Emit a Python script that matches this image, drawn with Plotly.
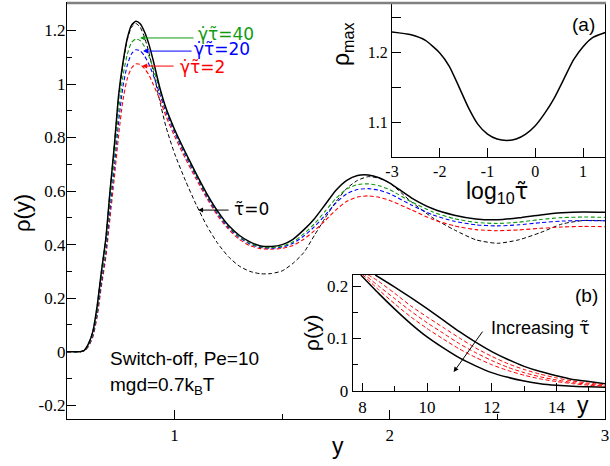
import plotly.graph_objects as go

# ---------------- data ----------------
y_pos = [0.5, 0.56, 0.58, 0.6, 0.62, 0.64, 0.66, 0.68, 0.70, 0.72, 0.74, 0.76, 0.78, 0.80,
         0.82, 0.84, 0.86, 0.88, 0.90, 0.93, 0.96, 1.0, 1.05, 1.1, 1.15, 1.2, 1.25, 1.3,
         1.35, 1.4, 1.45, 1.5, 1.55, 1.6, 1.65, 1.7, 1.75, 1.8, 1.85, 1.9, 1.95, 2.0,
         2.1, 2.2, 2.3, 2.4, 2.5, 2.6, 2.7, 2.8, 2.9, 3.0]

rho_long = [0, 0, 0.005, 0.03, 0.075, 0.17, 0.30, 0.42, 0.60, 0.77, 0.96, 1.08, 1.17, 1.22,
            1.234, 1.225, 1.195, 1.15, 1.09, 0.99, 0.91, 0.83, 0.745, 0.665, 0.59, 0.525, 0.472, 0.435,
            0.41, 0.395, 0.393, 0.40, 0.42, 0.455, 0.497, 0.55, 0.603, 0.64, 0.658, 0.66, 0.65, 0.63,
            0.575, 0.534, 0.51, 0.496, 0.493, 0.5, 0.511, 0.519, 0.522, 0.521]

rho_tau0 = [0, 0, 0.005, 0.03, 0.075, 0.17, 0.30, 0.42, 0.60, 0.77, 0.95, 1.075, 1.165, 1.213,
            1.226, 1.212, 1.175, 1.12, 1.05, 0.94, 0.84, 0.74, 0.64, 0.55, 0.47, 0.405, 0.355, 0.32,
            0.300, 0.291, 0.292, 0.302, 0.33, 0.37, 0.435, 0.50, 0.56, 0.61, 0.64, 0.654, 0.648, 0.63,
            0.56, 0.50, 0.455, 0.418, 0.405, 0.418, 0.445, 0.477, 0.49, 0.489]

rho_g40 = [0, 0, 0.004, 0.025, 0.065, 0.15, 0.275, 0.39, 0.56, 0.72, 0.90, 1.03, 1.11, 1.155,
           1.168, 1.162, 1.14, 1.105, 1.06, 0.98, 0.905, 0.825, 0.74, 0.66, 0.585, 0.52, 0.468, 0.43,
           0.405, 0.391, 0.389, 0.394, 0.41, 0.44, 0.478, 0.525, 0.573, 0.608, 0.624, 0.627, 0.62, 0.605,
           0.56, 0.522, 0.497, 0.483, 0.479, 0.484, 0.494, 0.501, 0.503, 0.502]

rho_g20 = [0, 0, 0.004, 0.022, 0.06, 0.14, 0.26, 0.37, 0.53, 0.69, 0.86, 0.99, 1.07, 1.113,
           1.128, 1.124, 1.105, 1.075, 1.035, 0.965, 0.895, 0.818, 0.733, 0.655, 0.58, 0.515, 0.464, 0.427,
           0.402, 0.389, 0.387, 0.391, 0.405, 0.432, 0.467, 0.51, 0.556, 0.59, 0.606, 0.609, 0.603, 0.59,
           0.548, 0.511, 0.487, 0.474, 0.47, 0.474, 0.482, 0.488, 0.49, 0.489]

rho_g2 = [0, 0, 0.003, 0.02, 0.055, 0.13, 0.245, 0.35, 0.50, 0.65, 0.81, 0.94, 1.02, 1.06,
          1.075, 1.073, 1.058, 1.035, 1.0, 0.945, 0.88, 0.805, 0.722, 0.645, 0.573, 0.508, 0.458, 0.42,
          0.396, 0.385, 0.383, 0.386, 0.397, 0.42, 0.452, 0.49, 0.53, 0.562, 0.578, 0.582, 0.577, 0.565,
          0.53, 0.494, 0.47, 0.456, 0.452, 0.455, 0.461, 0.466, 0.468, 0.467]

# inset (a)
log_tau = [-3.0, -2.6, -2.3, -2.0, -1.8, -1.6, -1.4, -1.2, -1.0, -0.8, -0.6, -0.4, -0.2,
           0.0, 0.2, 0.4, 0.6, 0.8, 1.0, 1.2, 1.5]
rho_max = [1.229, 1.225, 1.217, 1.199, 1.18, 1.151, 1.121, 1.097, 1.083, 1.076, 1.074, 1.076, 1.083,
           1.095, 1.113, 1.135, 1.162, 1.189, 1.208, 1.221, 1.229]

# inset (b)
yb_upper = [8.4, 9.0, 9.5, 10.0, 10.5, 11.0, 11.5, 12.0, 12.5, 13.0, 13.5, 14.0, 14.5, 15.0, 15.5]
rb_upper = [0.221, 0.198, 0.178, 0.157, 0.135, 0.113, 0.093, 0.075, 0.060, 0.047, 0.037, 0.029, 0.022, 0.018, 0.014]
yb_lower = [7.95, 8.5, 9.0, 9.5, 10.0, 10.5, 11.0, 11.5, 12.0, 12.5, 13.0, 13.5, 14.0, 14.5, 15.0, 15.5]
rb_lower = [0.221, 0.186, 0.156, 0.128, 0.103, 0.082, 0.063, 0.048, 0.035, 0.026, 0.019, 0.014, 0.011, 0.009, 0.008, 0.007]
yb_red = [8.0, 8.5, 9.0, 9.5, 10.0, 10.5, 11.0, 11.5, 12.0, 12.5, 13.0, 13.5, 14.0, 14.5, 15.0, 15.5]
rb_red1 = [0.228, 0.209, 0.186, 0.162, 0.141, 0.121, 0.101, 0.082, 0.066, 0.052, 0.041, 0.032, 0.025, 0.019, 0.015, 0.012]
rb_red2 = [0.225, 0.200, 0.176, 0.152, 0.130, 0.110, 0.090, 0.073, 0.058, 0.045, 0.035, 0.027, 0.021, 0.016, 0.013, 0.010]
rb_red3 = [0.222, 0.193, 0.166, 0.141, 0.119, 0.099, 0.080, 0.064, 0.050, 0.039, 0.030, 0.023, 0.018, 0.014, 0.011, 0.009]

main_yticks = [-0.2, 0, 0.2, 0.4, 0.6, 0.8, 1.0, 1.2]
main_ytext = ["-0.2", "0", "0.2", "0.4", "0.6", "0.8", "1", "1.2"]
main_xticks = [1, 2, 3]
a_xticks = [-3, -2, -1, 0, 1]
a_xtext = ["-3", "-2", "-1", "0", "1"]
a_yticks = [1.1, 1.2]
b_xticks = [8, 10, 12, 14]
b_yticks = [0, 0.1, 0.2]

# ---------------- styling ----------------
W, H = 610, 466
def PX(px): return px / W
def PY(py): return 1 - py / H

GREEN = "#109a10"
BLUE = "#0000ff"
RED = "#ff0000"
SERIF = "Liberation Serif, Times New Roman, serif"
SANS = "Liberation Sans, Arial, sans-serif"
MARKF = "DejaVu Sans"
DASH = "4px,2.5px"

fig = go.Figure()

def add(x, y, color, width, dash, xa="x", ya="y"):
    fig.add_trace(go.Scatter(x=x, y=y, mode="lines", xaxis=xa, yaxis=ya,
                             line=dict(color=color, width=width, dash=dash, shape="spline", smoothing=0.6),
                             hoverinfo="skip", showlegend=False))

add(y_pos, rho_tau0, "black", 1, DASH)
add(y_pos, rho_g2, RED, 1.1, DASH)
add(y_pos, rho_g20, BLUE, 1.1, DASH)
add(y_pos, rho_g40, GREEN, 1.1, DASH)
add(y_pos, rho_long, "black", 1.5, "solid")

add(log_tau, rho_max, "black", 1.5, "solid", "x2", "y2")

add(yb_upper, rb_upper, "black", 1.5, "solid", "x3", "y3")
add(yb_lower, rb_lower, "black", 1.5, "solid", "x3", "y3")
add(yb_red, rb_red1, RED, 1, DASH, "x3", "y3")
add(yb_red, rb_red2, RED, 1, DASH, "x3", "y3")
add(yb_red, rb_red3, RED, 1, DASH, "x3", "y3")

def axis(domain, rng, anchor, **kw):
    d = dict(domain=domain, range=rng, anchor=anchor, showgrid=False, zeroline=False,
             automargin=False,
             showline=True, linecolor="black", linewidth=1.3, mirror=True,
             ticks="inside", tickcolor="black", tickwidth=1, ticklen=9,
             tickfont=dict(family=SERIF, size=17, color="black"))
    d.update(kw)
    return d

fig.update_layout(
    template="none",
    width=W, height=H, margin=dict(l=0, r=0, t=0, b=0),
    paper_bgcolor="white", plot_bgcolor="white", showlegend=False,
    xaxis=axis([PX(67), PX(605)], [0.5, 3], "y", tickmode="array", tickvals=main_xticks,
               minor=dict(tickvals=[1.5, 2.5], ticks="inside", ticklen=5, tickcolor="black")),
    yaxis=axis([PY(419), PY(3)], [-0.2514, 1.3026], "x", tickmode="array", tickvals=main_yticks,
               ticktext=main_ytext, ticklabelstandoff=-3,
               minor=dict(tickvals=[-0.1, 0.1, 0.3, 0.5, 0.7, 0.9, 1.1], ticks="inside", ticklen=5,
                          tickcolor="black")),
    xaxis2=axis([PX(392), PX(605)], [-3, 1.46], "y2", tickmode="array", tickvals=a_xticks,
                ticktext=a_xtext, tickfont=dict(family=SERIF, size=16, color="black")),
    yaxis2=axis([PY(157), PY(3)], [1.0504, 1.2704], "x2", tickmode="array", tickvals=a_yticks,
                tickfont=dict(family=SERIF, size=16, color="black"),
                minor=dict(tickvals=[1.15, 1.25], ticks="inside", ticklen=9, tickcolor="black")),
    xaxis3=axis([PX(352.7), PX(605)], [7.7, 15.5], "y3", tickmode="array", tickvals=b_xticks,
                ticklen=8,
                minor=dict(tickvals=[9, 11, 13, 15], ticks="inside", ticklen=5, tickcolor="black")),
    yaxis3=axis([PY(391), PY(275)], [0, 0.221], "x3", tickmode="array", tickvals=b_yticks,
                ticklen=8,
                minor=dict(tickvals=[0.05, 0.15], ticks="inside", ticklen=5, tickcolor="black")),
)

# white backgrounds of the insets (hide the main curves behind them)
for xr, yr in (("x2", "y2"), ("x3", "y3")):
    fig.add_shape(type="rect", xref=xr + " domain", yref=yr + " domain", x0=0, x1=1, y0=0, y1=1,
                  fillcolor="white", line=dict(width=0), layer="below")

# gray top border
fig.add_shape(type="line", xref="paper", yref="paper", x0=PX(67), x1=PX(606), y0=PY(3), y1=PY(3),
              line=dict(color="#808080", width=2.5), layer="above")

def text(px, py, s, size=19, color="black", angle=0, xanchor="center", family=SANS):
    fig.add_annotation(x=PX(px), y=PY(py), xref="paper", yref="paper", text=s, showarrow=False,
                       font=dict(family=family, size=size, color=color), textangle=angle,
                       xanchor=xanchor, yanchor="middle")

def arrow(x, y, ax, ay, color, xr="x", yr="y"):
    fig.add_annotation(x=x, y=y, xref=xr, yref=yr, ax=ax, ay=ay, text="", showarrow=True,
                       arrowhead=2, arrowsize=1, arrowwidth=1, arrowcolor=color, standoff=0,
                       startstandoff=0)

GT = "\u03b3\u0307\u03c4\u0303"
TT = "\u03c4\u0303"
TT_SPAN = "<span style='font-family:DejaVu Sans'>\u03c4\u0303</span>"

# labels with arrows, main panel
arrow(0.8395, 1.172, 55, 0, GREEN)
text(196, 34, GT + "=40", 17, GREEN, xanchor="left", family=MARKF)
arrow(0.8535, 1.123, 50, 0, BLUE)
text(192, 49, GT + "=20", 17, BLUE, xanchor="left", family=MARKF)
arrow(0.849, 1.067, 33, 0, RED)
text(178, 67, GT + "=2", 17, RED, xanchor="left", family=MARKF)
arrow(1.109, 0.529, 32, 0, "black")
text(232, 209, TT + "=0", 17, "black", xanchor="left", family=MARKF)

text(108, 358, "Switch-off, Pe=10", 19, xanchor="left")
text(108, 386, "mgd=0.7k<sub>B</sub>T", 19, xanchor="left")

# axis titles
text(22, 213, "\u03c1(y)", 22, angle=-90)
text(338, 446, "y", 23)

# inset (a)
text(583, 24, "(a)", 19)
text(342, 44, "\u03c1<sub>max</sub>", 23, angle=-90)
text(497, 192, "log<sub>10</sub>" + TT_SPAN, 23)

# inset (b)
text(540, 327, "Increasing " + TT_SPAN, 18)
text(586, 295, "(b)", 19)
arrow(10.82, 0.036, 30, -42, "black", "x3", "y3")
text(311, 333, "\u03c1(y)", 21, angle=-90)
text(583, 405, "y", 23)

fig.write_html("out.html", config={"displayModeBar": False},
               post_script="document.body.style.margin='0px';")
